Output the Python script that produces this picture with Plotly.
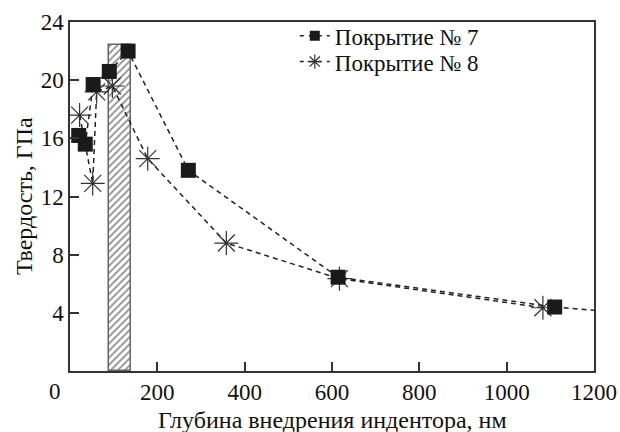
import plotly.graph_objects as go

# Data
depth7 = [20, 35, 53, 90, 133, 271, 614, 1110]
hard7 = [16.2, 15.6, 19.7, 20.6, 22.0, 13.8, 6.45, 4.4]
tail7_x = [1110, 1200]
tail7_y = [4.4, 4.17]

depth8 = [22, 52, 61, 97, 178, 358, 617, 1083]
hard8 = [17.6, 12.9, 19.2, 19.6, 14.6, 8.8, 6.35, 4.35]

band_x = [114.8]
band_w = [52]
band_h = [22.45]

x_ticks = [200, 400, 600, 800, 1000, 1200]
y_ticks = [4, 8, 12, 16, 20, 24]
names = ["Покрытие № 7", "Покрытие № 8"]
x_title = "Глубина внедрения индентора, нм"
y_title = "Твердость, ГПа"

FONT = "Times New Roman"
FS = 23
TXT = "#111111"
fig = go.Figure()

fig.add_trace(go.Bar(
    x=band_x, y=band_h, width=band_w,
    marker=dict(color="white", line=dict(color="#666", width=1.5),
                pattern=dict(shape="/", fgcolor="#222", bgcolor="white", size=5, solidity=0.35)),
    showlegend=False, hoverinfo="skip"))

dash = "5px,4px"
fig.add_trace(go.Scatter(
    x=tail7_x, y=tail7_y, mode="lines",
    line=dict(color="#222", width=1.5, dash=dash), showlegend=False, hoverinfo="skip"))

fig.add_trace(go.Scatter(
    x=depth8, y=hard8, mode="lines+markers", name=names[1], showlegend=False,
    line=dict(color="#222", width=1.5, dash=dash),
    marker=dict(symbol="asterisk-open", size=20, color="#333",
                line=dict(color="#444", width=1.2))))

fig.add_trace(go.Scatter(
    x=depth7, y=hard7, mode="lines+markers", name=names[0], showlegend=False,
    line=dict(color="#222", width=1.5, dash=dash),
    marker=dict(symbol="square", size=15, color="#1a1a1a",
                line=dict(color="#1a1a1a", width=0))))

# legend-only entries with smaller symbols
fig.add_trace(go.Scatter(
    x=[None], y=[None], mode="lines+markers", name=names[0], legend="legend",
    line=dict(color="#222", width=1.5, dash="4px,5px"),
    marker=dict(symbol="square", size=10, color="#1a1a1a")))
fig.add_trace(go.Scatter(
    x=[None], y=[None], mode="lines+markers", name=names[1], legend="legend2",
    line=dict(color="#222", width=1.5, dash="4px,5px"),
    marker=dict(symbol="asterisk-open", size=12, color="#333",
                line=dict(color="#444", width=1.2))))

leg_common = dict(xanchor="left", yanchor="top", bgcolor="rgba(0,0,0,0)",
                  font=dict(family=FONT, size=FS, color=TXT), itemwidth=30)

fig.update_layout(
    width=620, height=432,
    margin=dict(l=69.5, r=26.3, t=22, b=60.5, autoexpand=False),
    paper_bgcolor="white", plot_bgcolor="white",
    font=dict(family=FONT, size=FS, color=TXT),
    showlegend=True,
    legend=dict(x=0.429, y=1.022, **leg_common),
    legend2=dict(x=0.429, y=0.948, **leg_common),
    bargap=0,
)
fig.update_xaxes(
    range=[0, 1200], tickvals=x_ticks, ticktext=[str(v) for v in x_ticks],
    ticks="inside", ticklen=9, tickwidth=1.5, tickcolor="#333",
    showline=True, linecolor="#333", linewidth=1.5, mirror=True,
    showgrid=False, zeroline=False, ticklabelstandoff=0, automargin=False,
    tickfont=dict(family=FONT, size=FS, color=TXT))
fig.update_yaxes(
    range=[0, 24], tickvals=y_ticks, ticktext=[str(v) for v in y_ticks],
    ticks="inside", ticklen=9, tickwidth=1.5, tickcolor="#333",
    showline=True, linecolor="#333", linewidth=1.5, mirror=True,
    showgrid=False, zeroline=False, automargin=False,
    tickfont=dict(family=FONT, size=FS, color=TXT))

# axis titles and the shared origin label
fig.add_annotation(text=x_title, xref="paper", yref="paper",
                   x=0.5, y=-0.14, xanchor="center", yanchor="middle",
                   showarrow=False, font=dict(family=FONT, size=24, color=TXT))
fig.add_annotation(text=y_title, xref="paper", yref="paper", textangle=-90,
                   x=-0.0887, y=0.5, xanchor="center", yanchor="middle",
                   showarrow=False, font=dict(family=FONT, size=24, color=TXT))
fig.add_annotation(text="0", xref="paper", yref="paper",
                   x=-0.0277, y=-0.0587, xanchor="center", yanchor="middle",
                   showarrow=False, font=dict(family=FONT, size=FS, color=TXT))

fig.write_html("out.html")
